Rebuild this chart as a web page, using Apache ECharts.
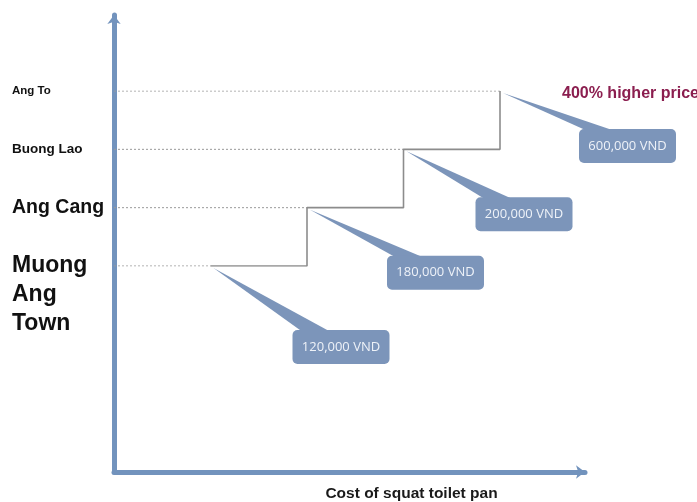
<!DOCTYPE html>
<html>
<head>
<meta charset="utf-8">
<script src="https://cdn.jsdelivr.net/npm/echarts@6/dist/echarts.min.js"></script>
<style>
  html, body { margin: 0; padding: 0; background: #ffffff; }
  #chart { width: 697px; height: 502px; }
</style>
</head>
<body>
<div id="chart"></div>
<script>
// Villages, from the town up to the most remote one
const villages = ['Muong Ang Town', 'Ang Cang', 'Buong Lao', 'Ang To'];
// Price of a squat toilet pan in each village (VND)
const prices = [120000, 180000, 200000, 600000];
const xAxisTitle = 'Cost of squat toilet pan';
const noteText = '400% higher price';

const priceLabels = prices.map(v => v.toLocaleString('en-US') + ' VND');
// first category is the axis origin, the steps follow it
const ORIGIN = '';
const xCategories = [ORIGIN].concat(priceLabels);

// Styling
const AXIS_BLUE = '#7293bd';
const BOX_BLUE = '#7c95ba';
const FONT = '"Liberation Sans", Arial, sans-serif';
const BOX_W = 97, BOX_H = 34;
// offset of each price box from its step corner
const calloutOffsets = [[82, 64], [80, 48], [72, 48], [79, 38]];

const labelRich = {
  m: { fontSize: 23, lineHeight: 29, fontWeight: 'bold', color: '#111', fontFamily: FONT },
  c: { fontSize: 19.5, fontWeight: 'bold', color: '#111', fontFamily: FONT },
  b: { fontSize: 13.5, fontWeight: 'bold', color: '#111', fontFamily: FONT },
  a: { fontSize: 11.5, fontWeight: 'bold', color: '#111', fontFamily: FONT }
};
const labelStyleKey = ['m', 'c', 'b', 'a'];

const chart = echarts.init(document.getElementById('chart'), null, { renderer: 'canvas' });

// dotted leader from the vertical axis to each step corner
const leaderSeries = villages.map((v, i) => ({
  type: 'line', xAxisIndex: 1, yAxisIndex: 1, symbol: 'none', silent: true, z: 1,
  data: [[ORIGIN, v], [priceLabels[i], v]],
  lineStyle: { color: '#9a9a9a', width: 1, type: [2, 2] }
}));

chart.setOption({
  animation: false,
  backgroundColor: '#ffffff',
  grid: [
    // outer frame carrying the two arrowed axes
    { left: 114, right: 112, top: 15, bottom: 30, outerBoundsMode: 'none', containLabel: false },
    // staircase area
    { left: 114, right: 197, top: 91, bottom: 236, outerBoundsMode: 'none', containLabel: false }
  ],
  xAxis: [
    {
      gridIndex: 0, type: 'value', min: 0, max: 1,
      axisLine: { show: true, onZero: false, symbol: ['none', 'arrow'], symbolSize: [10, 9],
        lineStyle: { color: AXIS_BLUE, width: 5 } },
      axisTick: { show: false }, axisLabel: { show: false }, splitLine: { show: false },
      name: xAxisTitle, nameLocation: 'middle', nameGap: 14,
      nameTextStyle: { fontSize: 15.5, fontWeight: 'bold', color: '#1a1a1a', fontFamily: FONT,
        padding: [0, 0, 0, 124] }
    },
    {
      gridIndex: 1, type: 'category', data: xCategories, boundaryGap: false, show: false
    }
  ],
  yAxis: [
    {
      gridIndex: 0, type: 'value', min: 0, max: 1,
      axisLine: { show: true, onZero: false, symbol: ['none', 'arrow'], symbolSize: [10, 9],
        lineStyle: { color: AXIS_BLUE, width: 5 } },
      axisTick: { show: false }, axisLabel: { show: false }, splitLine: { show: false }
    },
    {
      gridIndex: 1, type: 'category', data: villages, boundaryGap: false,
      axisLine: { show: false }, axisTick: { show: false }, splitLine: { show: false },
      axisLabel: {
        show: true, align: 'left', margin: 102, interval: 0,
        formatter: function (value, idx) {
          const key = labelStyleKey[idx];
          if (key === 'm') {
            // two blank lines above keep the first word on the row
            return '{m| }\n{m| }\n' + value.split(' ').map(w => '{m|' + w + '}').join('\n');
          }
          return '{' + key + '|' + value + '}';
        },
        rich: labelRich
      }
    }
  ],
  graphic: [
    {
      type: 'text', left: 562, top: 86,
      style: { text: noteText, fill: '#8b1e4f', fontSize: 16, fontWeight: 'bold', fontFamily: FONT }
    }
  ],
  series: leaderSeries.concat([
    {
      type: 'line', xAxisIndex: 1, yAxisIndex: 1, z: 2,
      step: 'end', symbol: 'none', silent: true,
      data: villages.map((v, i) => [priceLabels[i], v]),
      lineStyle: { color: '#8c8c8c', width: 1.6 }
    },
    {
      type: 'custom', xAxisIndex: 1, yAxisIndex: 1, silent: true, z: 3,
      data: villages.map((v, i) => [priceLabels[i], v]),
      renderItem: function (params, api) {
        const p = api.coord([api.value(0), api.value(1)]);
        const off = calloutOffsets[params.dataIndex];
        const bx = p[0] + off[0];
        const by = p[1] + off[1];
        return {
          type: 'group',
          children: [
            {
              type: 'polygon',
              shape: { points: [[p[0] + 3, p[1] + 2], [bx + 13, by + 4], [bx + 42, by + 4]] },
              style: { fill: BOX_BLUE }
            },
            {
              type: 'rect',
              shape: { x: bx, y: by, width: BOX_W, height: BOX_H, r: 5 },
              style: { fill: BOX_BLUE }
            },
            {
              type: 'text', x: bx + BOX_W / 2, y: by + BOX_H / 2,
              style: {
                text: priceLabels[params.dataIndex], fill: '#eef2f8',
                fontSize: 13, fontFamily: '"Open Sans", sans-serif',
                align: 'center', verticalAlign: 'middle'
              }
            }
          ]
        };
      }
    }
  ])
});
</script>
</body>
</html>
